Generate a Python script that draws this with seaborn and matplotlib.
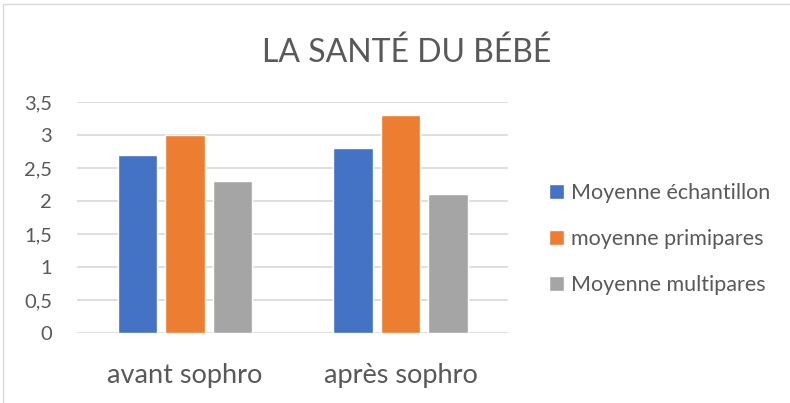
import pandas as pd
import matplotlib.pyplot as plt
import seaborn as sns
from matplotlib.patches import Rectangle
from matplotlib.ticker import FuncFormatter

categories = ["avant sophro", "après sophro"]
series = ["Moyenne échantillon", "moyenne primipares", "Moyenne multipares"]
echantillon = [2.7, 2.8]
primipares = [3.0, 3.3]
multipares = [2.3, 2.1]
colors = ["#4472C4", "#ED7D31", "#A5A5A5"]

df = pd.DataFrame({
    "moment": categories * 3,
    "serie": [series[0]] * 2 + [series[1]] * 2 + [series[2]] * 2,
    "valeur": echantillon + primipares + multipares,
})

sns.set_style("white")
plt.rcParams["font.family"] = ["Lato", "DejaVu Sans"]

fig = plt.figure(figsize=(7.9, 4.03), dpi=100)
ax = fig.add_axes([0.0975, 0.174, 0.546, 0.573])

sns.barplot(data=df, x="moment", y="valeur", hue="serie", palette=colors,
            width=0.66, gap=0.17, ax=ax, saturation=1, legend=True)

ax.set_ylim(0, 3.5)
ax.set_yticks([0, 0.5, 1, 1.5, 2, 2.5, 3, 3.5])
ax.yaxis.set_major_formatter(FuncFormatter(lambda v, p: f"{v:g}".replace(".", ",")))
ax.grid(axis="y", color="#D9D9D9", linewidth=1.2)
ax.set_axisbelow(True)
for s in ax.spines.values():
    s.set_visible(False)
ax.tick_params(axis="y", labelsize=14.5, labelcolor="#595959", length=0, pad=18)
ax.tick_params(axis="x", labelsize=19.5, labelcolor="#595959", length=0, pad=22)
ax.set_xlabel("")
ax.set_ylabel("")

fig.text(0.515, 0.87, "LA SANTÉ DU BÉBÉ", ha="center", va="center",
         fontsize=23, color="#595959")

handles, labels = ax.get_legend_handles_labels()
ax.legend(handles, labels, loc="center left", bbox_to_anchor=(1.05, 0.407),
          frameon=False, fontsize=15.5, labelcolor="#595959",
          handlelength=0.7, handleheight=0.7, handletextpad=0.3,
          labelspacing=1.2)

fig.patches.append(Rectangle((0.004, -0.01), 1.0, 1.0, transform=fig.transFigure,
                             fill=False, edgecolor="#D9D9D9", linewidth=1))

fig.savefig("out.png", dpi=100)
